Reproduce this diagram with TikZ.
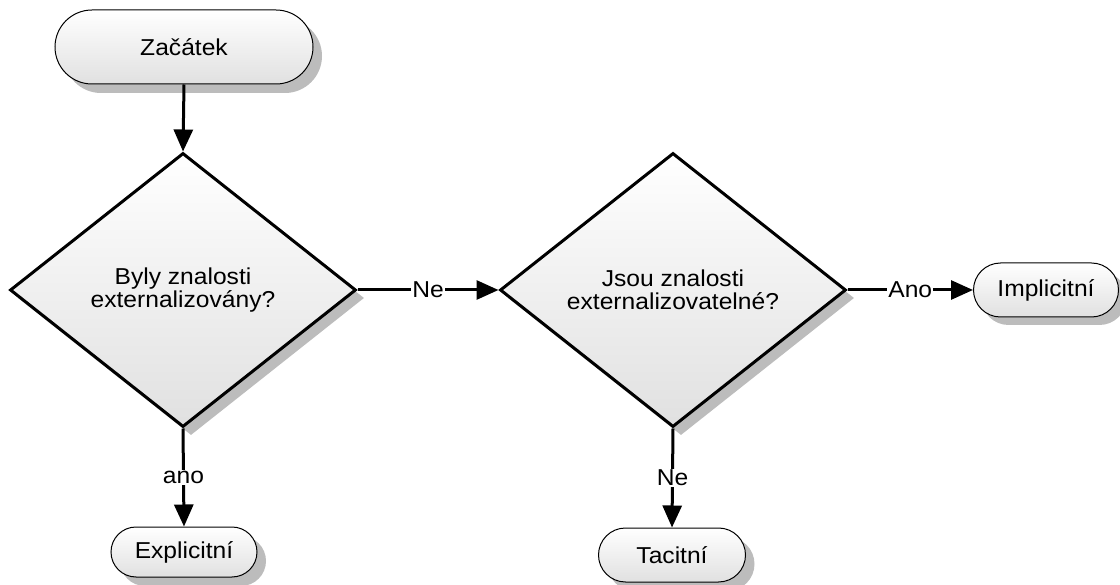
\documentclass[tikz,border=0pt]{standalone}
\usepackage{fontspec}
\setmainfont[FakeStretch=1.07]{Liberation Sans}
\usetikzlibrary{shapes.geometric,shapes.misc,arrows.meta}
\definecolor{shadowgray}{RGB}{188,188,188}
\begin{document}
\begin{tikzpicture}[x=1pt,y=-1pt,
  txt/.style={font=\fontsize{23}{23}\selectfont},
  shapefill/.style={draw=black, line width=1pt, top color=white, bottom color=gray!24},
  shadowbox/.style={fill=shadowgray, draw=none},
  termshape/.style={rounded rectangle, inner sep=0pt},
  term/.style={shapefill, termshape, txt},
  diamshape/.style={diamond, inner sep=0pt, minimum width=346pt, minimum height=274pt},
  decision/.style={shapefill, diamshape, line width=3pt, align=center, txt},
  flow/.style={line width=3pt, -{Triangle[length=22pt,width=19pt]}},
  lab/.style={fill=white, inner sep=1pt, txt}]
\useasboundingbox (0,0) rectangle (1120,585);
% shadows
\node[shadowbox, termshape, minimum width=258pt, minimum height=74pt] (start-sh) at (193,56) {};
\node[shadowbox, diamshape] (d1-sh) at (191,298) {};
\node[shadowbox, diamshape] (d2-sh) at (681,298) {};
\node[shadowbox, termshape, minimum width=145pt, minimum height=54pt] (impl-sh) at (1054,298) {};
\node[shadowbox, termshape, minimum width=146pt, minimum height=50pt] (expl-sh) at (193,561) {};
\node[shadowbox, termshape, minimum width=147pt, minimum height=54pt] (tac-sh) at (681,564) {};
% shapes
\node[term, minimum width=258pt, minimum height=74pt] (start) at (184,47) {Začátek};
\node[decision] (d1) at (183,290) {Byly znalosti\\externalizovány?};
\node[decision] (d2) at (673,290) {Jsou znalosti\\externalizovatelné?};
\node[term, minimum width=145pt, minimum height=54pt] (impl) at (1046,290) {Implicitní};
\node[term, minimum width=146pt, minimum height=50pt] (expl) at (184,552) {Explicitní};
\node[term, minimum width=147pt, minimum height=54pt] (tac) at (672,555) {Tacitní};
% connectors
\draw[flow] (start.south) -- (d1.north);
\draw[flow] (d1.east) -- node[lab] {Ne} (d2.west);
\draw[flow] (d2.east) -- node[lab] {Ano} (impl.west);
\draw[flow] (d1.south) -- node[lab] {ano} (expl.north);
\draw[flow] (d2.south) -- node[lab] {Ne} (tac.north);
\end{tikzpicture}
\end{document}
